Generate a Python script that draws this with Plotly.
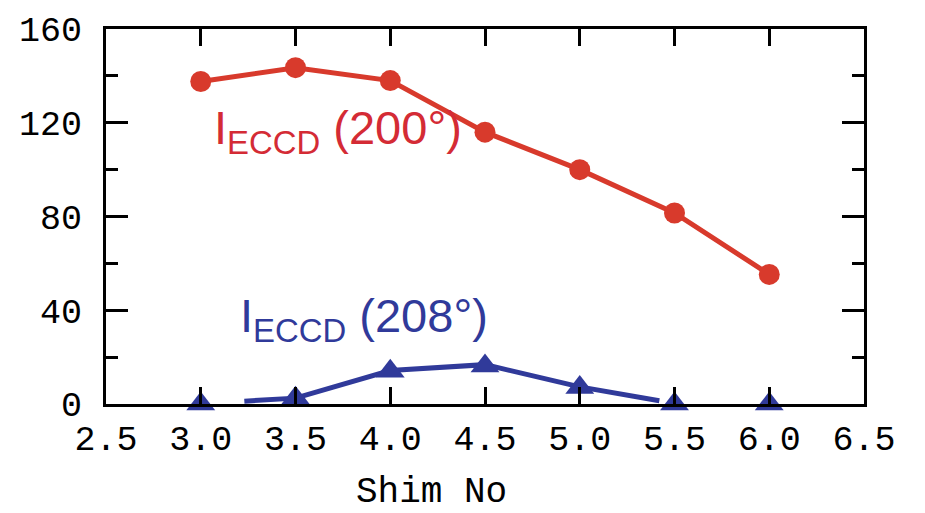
import plotly.graph_objects as go

# Shim number scan and driven current for the two launch angles
shim_no = [3.0, 3.5, 4.0, 4.5, 5.0, 5.5, 6.0]
i_eccd_200 = [137.6, 143.5, 138.0, 116.0, 100.0, 81.5, 55.3]
i_eccd_208 = [0.0, 2.5, 14.0, 16.2, 7.0, 0.0, 0.0]

# Smoothed trend drawn through the 208 deg points
trend_208_x = [3.23, 3.5, 4.0, 4.5, 5.0, 5.42]
trend_208_y = [1.2, 2.5, 14.3, 16.8, 7.3, 1.4]

red_line = "#D83A2C"
red_text = "#D42B35"
blue = "#303A9A"
mono = "Liberation Mono, Courier New, monospace"
sans = "Liberation Sans, Arial, Helvetica, sans-serif"

fig = go.Figure()

fig.add_trace(go.Scatter(
    x=shim_no, y=i_eccd_200, mode="lines+markers",
    line=dict(color=red_line, width=5),
    marker=dict(symbol="circle", size=21, color=red_line, line=dict(width=0)),
    showlegend=False, cliponaxis=False,
))

fig.add_trace(go.Scatter(
    x=trend_208_x, y=trend_208_y, mode="lines",
    line=dict(color=blue, width=5),
    showlegend=False, cliponaxis=False,
))

fig.add_trace(go.Scatter(
    x=shim_no, y=i_eccd_208, mode="markers",
    marker=dict(symbol="triangle-up", size=25, color=blue, line=dict(width=0)),
    showlegend=False, cliponaxis=False,
))

fig.add_annotation(
    x=3.06, y=116.5, xref="x", yref="y", xanchor="left", yanchor="middle",
    text="I<sub>ECCD</sub> (200°)", showarrow=False,
    font=dict(family=sans, size=47, color=red_text),
)
fig.add_annotation(
    x=3.195, y=36.3, xref="x", yref="y", xanchor="left", yanchor="middle",
    text="I<sub>ECCD</sub> (208°)", showarrow=False,
    font=dict(family=sans, size=47, color=blue),
)
fig.add_annotation(
    x=0.4288, y=-0.296, xref="paper", yref="paper",
    xanchor="center", yanchor="bottom",
    text="Shim No", showarrow=False,
    font=dict(family=mono, size=36, color="black"),
)

fig.update_xaxes(
    range=[2.5, 6.5], dtick=0.5, tick0=2.5, tickformat=".1f",
    showline=True, linewidth=3, linecolor="black", mirror="allticks",
    ticks="inside", ticklen=17, tickwidth=3, tickcolor="black",
    showgrid=False, zeroline=False,
    tickfont=dict(family=mono, size=35, color="black"),
    ticklabelstandoff=1,
)
fig.update_yaxes(
    range=[0, 160], dtick=40, tick0=0,
    showline=True, linewidth=3, linecolor="black", mirror="allticks",
    ticks="inside", ticklen=22, tickwidth=3, tickcolor="black",
    minor=dict(dtick=20, ticks="inside", ticklen=12, tickwidth=3,
               tickcolor="black", showgrid=False),
    showgrid=False, zeroline=False,
    tickfont=dict(family=mono, size=35, color="black"),
    ticklabelstandoff=14,
)

fig.update_layout(
    width=925, height=513,
    margin=dict(l=106, r=61, t=25, b=109),
    plot_bgcolor="white", paper_bgcolor="white",
)

fig.write_html("out.html")
